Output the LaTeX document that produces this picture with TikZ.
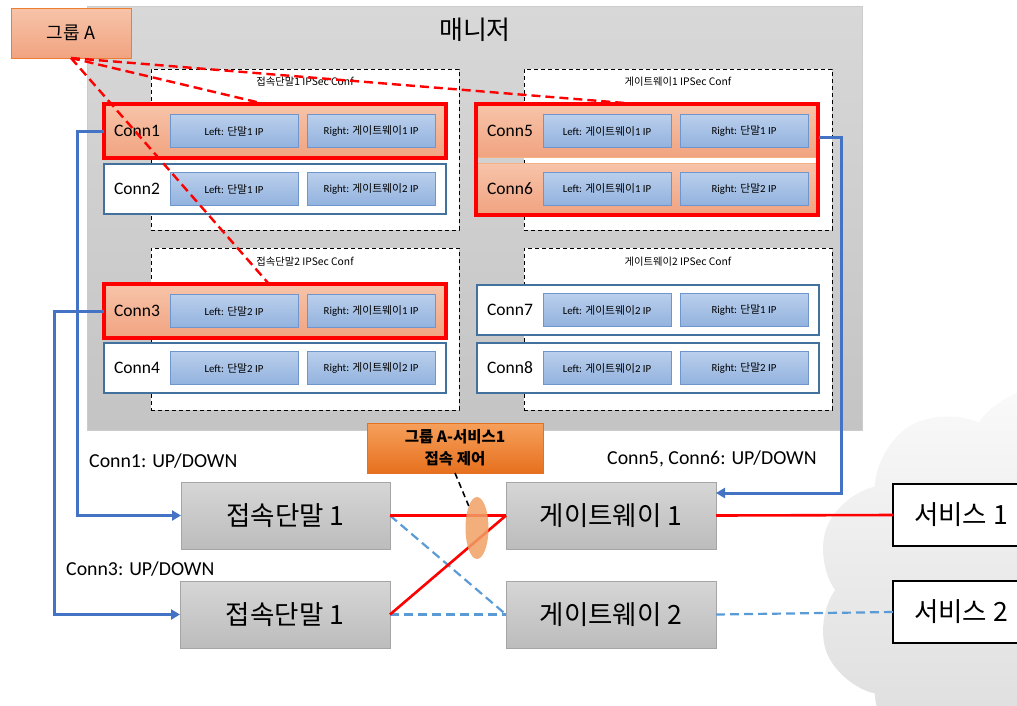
\documentclass[tikz,border=0pt]{standalone}
\usepackage{fontspec}
\setmainfont{Carlito}
\newfontfamily\kr{Noto Sans CJK KR}
\usetikzlibrary{shapes.symbols,shapes.geometric,arrows.meta,calc}

\definecolor{mgrtop}{RGB}{216,216,216}
\definecolor{mgrbot}{RGB}{196,196,196}
\definecolor{salmontop}{RGB}{247,196,170}
\definecolor{salmonbot}{RGB}{241,163,128}
\definecolor{salmonedge}{RGB}{237,125,49}
\definecolor{iptop}{RGB}{186,207,236}
\definecolor{ipbot}{RGB}{146,178,222}
\definecolor{ipedge}{RGB}{110,150,205}
\definecolor{rowedge}{RGB}{65,113,156}
\definecolor{linkblue}{RGB}{68,114,196}
\definecolor{dashblue}{RGB}{91,155,213}
\definecolor{boxtop}{RGB}{214,214,214}
\definecolor{boxbot}{RGB}{188,188,188}
\definecolor{boxedge}{RGB}{165,165,165}
\definecolor{ctrltop}{RGB}{246,160,92}
\definecolor{ctrlbot}{RGB}{230,112,30}
\definecolor{ellfill}{RGB}{240,160,100}

\tikzset{
  base/.style={inner sep=0pt, outer sep=0pt, anchor=north west},
  manager/.style={base, top color=mgrtop, bottom color=mgrbot, draw=gray!40, line width=0.5pt},
  groupbox/.style={base, top color=salmontop, bottom color=salmonbot, draw=salmonedge, line width=0.6pt},
  confbox/.style={base, fill=white, draw=black, line width=1pt, dash pattern=on 4pt off 3pt},
  conftitle/.style={font=\kr\fontsize{10.3}{12}\selectfont, inner sep=0pt},
  rowred/.style={base, top color=salmontop, bottom color=salmonbot, draw=red, line width=3.4pt},
  rowplain/.style={base, fill=white, draw=rowedge, line width=1.2pt},
  rowsalmon/.style={base, top color=salmontop, bottom color=salmonbot, draw=salmonedge!60, line width=0.5pt},
  redframe/.style={base, draw=red, line width=3.4pt},
  connlbl/.style={font=\fontsize{17.5}{19}\selectfont, inner sep=0pt},
  ipbox/.style={inner sep=0pt, minimum width=128, minimum height=33, top color=iptop, bottom color=ipbot, draw=ipedge, line width=0.7pt, font=\fontsize{10.8}{12}\selectfont},
  hostbox/.style={base, top color=boxtop, bottom color=boxbot, draw=boxedge, line width=0.7pt, font=\kr\fontsize{26.5}{30}\selectfont},
  svcbox/.style={base, fill=white, draw=black, line width=1.2pt, font=\kr\fontsize{26.5}{30}\selectfont},
  ctrlbox/.style={base, top color=ctrltop, bottom color=ctrlbot, draw=ctrlbot, line width=0.5pt, align=center, font=\kr\bfseries\fontsize{15.5}{22}\selectfont},
  statelbl/.style={anchor=west, inner sep=0pt, font=\fontsize{19.8}{21}\selectfont},
  uplink/.style={draw=linkblue, line width=3pt, -{Triangle[width=10pt,length=9pt]}},
  grouplink/.style={draw=red, line width=2.4pt, dash pattern=on 9pt off 5pt},
  tunnel/.style={draw=red, line width=2.6pt},
  spare/.style={draw=dashblue, line width=2.2pt, dash pattern=on 9pt off 5pt},
}

% one connection row: name, x, top y, height, row style, label, left ip, right ip
\newcommand\connrow[8]{%
  \node[#5, minimum width=342, minimum height=#4] (#1) at (#2,#3) {};
  \node[connlbl] (#1-lbl) at ($(#1.west)+(33,0)$) {#6};
  \node[ipbox] (#1-l) at ($(#1.west)+(130,0)$) {#7};
  \node[ipbox] (#1-r) at ($(#1.west)+(267,0)$) {#8};
}

\begin{document}
\begin{tikzpicture}[x=1pt,y=-1pt]
\useasboundingbox (0,0) rectangle (1017,705);

% cloud behind the services
\node[cloud, cloud puffs=10, cloud puff arc=115, aspect=1.05, minimum width=455, minimum height=405,
      inner sep=0pt, top color=gray!4, bottom color=gray!30] (cloud) at (1043,590) {};

% manager area
\node[manager, minimum width=775, minimum height=424] (mgr) at (87,6) {};
\node[font=\kr\fontsize{26}{30}\selectfont, inner sep=0pt] (mgrtitle) at (475,30) {매니저};

% IPSec configuration groups
\node[confbox, minimum width=308, minimum height=161] (conf1) at (151,69) {};
\node[confbox, minimum width=308, minimum height=161] (conf2) at (524,69) {};
\node[confbox, minimum width=308, minimum height=162] (conf3) at (151,248) {};
\node[confbox, minimum width=308, minimum height=162] (conf4) at (524,248) {};
\node[conftitle] (conf1t) at ($(conf1.north)+(0,13)$) {접속단말1 IPSec Conf};
\node[conftitle] (conf2t) at ($(conf2.north)+(0,13)$) {게이트웨이1 IPSec Conf};
\node[conftitle] (conf3t) at ($(conf3.north)+(0,14)$) {접속단말2 IPSec Conf};
\node[conftitle] (conf4t) at ($(conf4.north)+(0,14)$) {게이트웨이2 IPSec Conf};

% connections
\connrow{conn1}{104}{104}{54}{rowred}{Conn1}{Left: {\kr 단말}1 IP}{Right: {\kr 게이트웨이}1 IP}
\connrow{conn2}{104}{164}{50}{rowplain}{Conn2}{Left: {\kr 단말}1 IP}{Right: {\kr 게이트웨이}2 IP}
\connrow{conn3}{104}{284}{54}{rowred}{Conn3}{Left: {\kr 단말}2 IP}{Right: {\kr 게이트웨이}1 IP}
\connrow{conn4}{104}{343}{50}{rowplain}{Conn4}{Left: {\kr 단말}2 IP}{Right: {\kr 게이트웨이}2 IP}
\connrow{conn5}{477}{105}{52}{rowsalmon}{Conn5}{Left: {\kr 게이트웨이}1 IP}{Right: {\kr 단말}1 IP}
\connrow{conn6}{477}{163}{51}{rowsalmon}{Conn6}{Left: {\kr 게이트웨이}1 IP}{Right: {\kr 단말}2 IP}
\connrow{conn7}{477}{285}{50}{rowplain}{Conn7}{Left: {\kr 게이트웨이}2 IP}{Right: {\kr 단말}1 IP}
\connrow{conn8}{477}{343}{50}{rowplain}{Conn8}{Left: {\kr 게이트웨이}2 IP}{Right: {\kr 단말}2 IP}
\node[redframe, minimum width=342, minimum height=111] (conn56) at (476,104) {};

% group A
\node[groupbox, minimum width=120, minimum height=50, font=\kr\fontsize{18}{20}\selectfont] (grpA) at (11,8) {그룹 A};
\coordinate (g1) at ($(conn1.north west)+(161,0)$);
\coordinate (g3) at ($(conn3.north west)+(165,0)$);
\coordinate (g5) at ($(conn56.north west)+(161,0)$);
\draw[grouplink] (grpA.south) -- (g1);
\draw[grouplink] (grpA.south) -- (g5);
\draw[grouplink] (grpA.south) -- (g3);

% hosts and services
\node[hostbox, minimum width=209, minimum height=67] (term1) at (181,482) {접속단말 1};
\node[hostbox, minimum width=210, minimum height=67] (term2) at (180,581) {접속단말 1};
\node[hostbox, minimum width=210, minimum height=67] (gw1) at (506,482) {게이트웨이 1};
\node[hostbox, minimum width=210, minimum height=67] (gw2) at (506,581) {게이트웨이 2};
\node[svcbox, minimum width=136, minimum height=62] (svc1) at (893,484) {서비스 1};
\node[svcbox, minimum width=136, minimum height=62] (svc2) at (893,581) {서비스 2};

% tunnels
\draw[spare] (term1.east) -- (gw2.west);
\draw[spare] (term2.east) -- (gw2.west);
\draw[spare] (gw2.east) -- (svc2.west);
\draw[tunnel] (term1.east) -- (gw1.west);
\draw[tunnel] (term2.east) -- (gw1.west);
\draw[tunnel] (gw1.east) -- (svc1.west);

% access control point
\node[ellipse, minimum width=23, minimum height=62, inner sep=0pt, fill=ellfill, fill opacity=0.85] (gate) at (477,528) {};
\node[ctrlbox, minimum width=176, minimum height=50] (ctrl) at (367,423) {그룹 A-서비스1\\접속 제어};
\draw[black, line width=1.6pt, dash pattern=on 6pt off 4pt] (ctrl.south) -- (gate.north west);

% up/down control links
\coordinate (c5out) at ($(conn5.east)+(0,6)$);
\coordinate (gw1in) at ($(gw1.north east)+(0,11)$);
\draw[uplink] (conn1.west) -- ++(-27,0) |- (term1.west);
\draw[uplink] (conn3.west) -- ++(-50,0) |- (term2.west);
\draw[uplink] (c5out) -- ++(22,0) |- (gw1in);
\node[statelbl] (st1) at (89,461) {Conn1: UP/DOWN};
\node[statelbl] (st3) at (66,569) {Conn3: UP/DOWN};
\node[statelbl] (st5) at (607,459) {Conn5, Conn6: UP/DOWN};
\end{tikzpicture}
\end{document}
